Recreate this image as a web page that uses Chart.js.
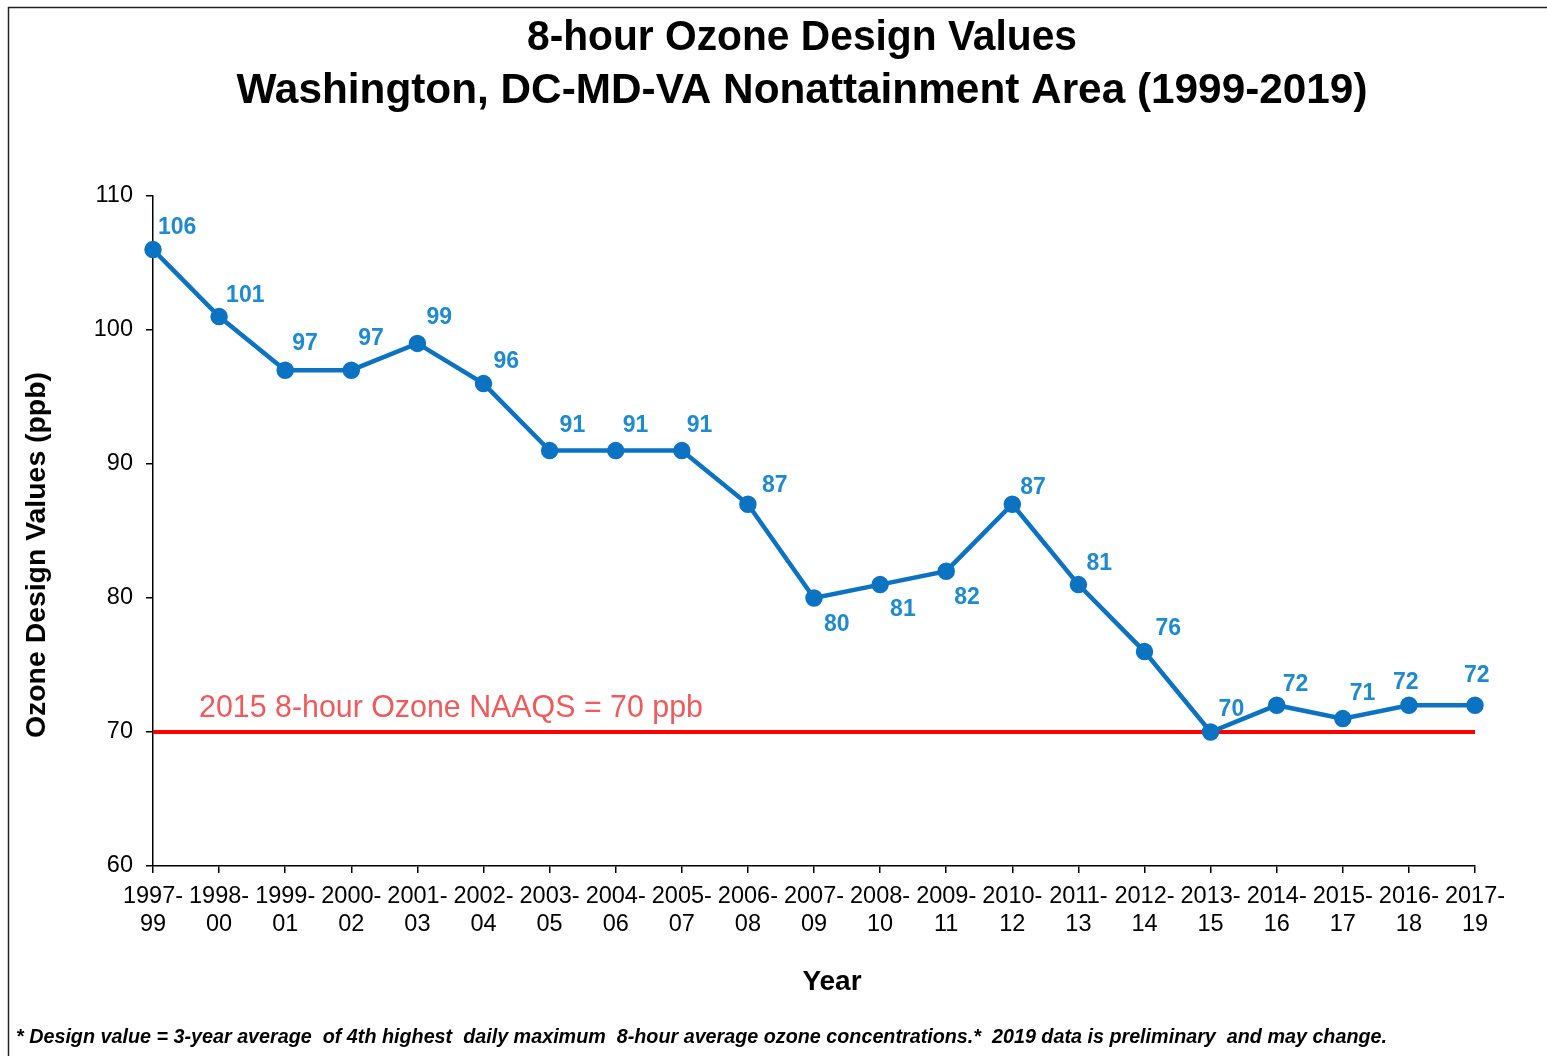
<!DOCTYPE html>
<html>
<head>
<meta charset="utf-8">
<script src="https://cdn.jsdelivr.net/npm/chart.js@4.4.1/dist/chart.umd.min.js"></script>
<style>
  html, body { margin: 0; padding: 0; background: #fff; overflow: hidden; }
  #wrap { position: relative; width: 1547px; height: 1056px; }
  canvas { display: block; }
</style>
</head>
<body>
<div id="wrap"><canvas id="ozoneChart" width="1547" height="1056"></canvas></div>
<script>
// data
var periods = ['1997-99', '1998-00', '1999-01', '2000-02', '2001-03', '2002-04', '2003-05',
               '2004-06', '2005-07', '2006-08', '2007-09', '2008-10', '2009-11', '2010-12',
               '2011-13', '2012-14', '2013-15', '2014-16', '2015-17', '2016-18', '2017-19'];
var designValues = [106, 101, 97, 97, 99, 96, 91, 91, 91, 87, 80, 81, 82, 87, 81, 76, 70, 72, 71, 72, 72];
var naaqsValues = [70, 70, 70, 70, 70, 70, 70, 70, 70, 70, 70, 70, 70, 70, 70, 70, 70, 70, 70, 70, 70];
var yMin = 60, yMax = 110, yStep = 10;

var chartTitle = ['8-hour Ozone Design Values', 'Washington, DC-MD-VA Nonattainment Area (1999-2019)'];
var yTitle = 'Ozone Design Values (ppb)';
var xTitle = 'Year';
var naaqsLabel = '2015 8-hour Ozone NAAQS = 70 ppb';
var footnote = '* Design value = 3-year average  of 4th highest  daily maximum  8-hour average ozone concentrations.*  2019 data is preliminary  and may change.';

// where each value label sits relative to its point (px)
var labelShift = [[5, -22], [7, -21], [7, -27], [7, -32], [9, -26], [10, -22], [10, -25],
                  [7, -25], [5, -25], [14, -19], [10, 27], [10, 25], [8, 26], [8, -17],
                  [8, -21], [11, -23], [8, -22], [6, -21], [7, -25], [-16, -23], [-11, -30]];

var FONT = '"Liberation Sans", Arial, sans-serif';

var textPlugin = {
    id: 'ozoneText',
    afterDatasetsDraw: function (chart) {
        var ctx = chart.ctx;
        var xs = chart.scales.x, ys = chart.scales.y;
        ctx.save();
        ctx.textBaseline = 'middle';
        ctx.textAlign = 'left';

        // value labels
        ctx.font = 'bold 23px ' + FONT;
        ctx.fillStyle = '#1E8AD0';
        designValues.forEach(function (v, i) {
            var px = xs.getPixelForValue(i);
            var py = ys.getPixelForValue(v);
            ctx.fillText(String(v), px + labelShift[i][0], py + labelShift[i][1]);
        });

        // NAAQS label
        ctx.font = '30.5px ' + FONT;
        ctx.fillStyle = '#F05A5A';
        ctx.fillText(naaqsLabel, xs.left + 46, ys.getPixelForValue(70) - 23, 504);
        ctx.restore();
    },
    afterDraw: function (chart) {
        var ctx = chart.ctx;
        ctx.save();
        // frame
        ctx.strokeStyle = '#222';
        ctx.lineWidth = 1.5;
        ctx.beginPath();
        ctx.moveTo(8.5, 1056);
        ctx.lineTo(8.5, 7.5);
        ctx.lineTo(1547, 7.5);
        ctx.stroke();

        ctx.fillStyle = '#000';
        ctx.textBaseline = 'middle';
        ctx.textAlign = 'center';

        // title
        ctx.font = 'bold 43px ' + FONT;
        ctx.fillText(chartTitle[0], 802, 38, 550);
        ctx.fillText(chartTitle[1], 802, 91, 1131);

        // axis titles
        ctx.font = 'bold 28px ' + FONT;
        ctx.fillText(xTitle, 832, 982);
        ctx.save();
        ctx.translate(37, 555);
        ctx.rotate(-Math.PI / 2);
        ctx.font = 'bold 28.5px ' + FONT;
        ctx.fillText(yTitle, 0, 0, 366);
        ctx.restore();

        // footnote
        ctx.font = 'italic bold 20px ' + FONT;
        ctx.textAlign = 'left';
        ctx.fillText(footnote, 16, 1037, 1371);
        ctx.restore();
    }
};

var ctx = document.getElementById('ozoneChart').getContext('2d');
new Chart(ctx, {
    type: 'line',
    data: {
        labels: periods.map(function (p) { return [p.slice(0, 5), p.slice(5)]; }),
        datasets: [{
            label: 'Design value',
            data: designValues,
            borderColor: '#0B73C2',
            backgroundColor: '#0B73C2',
            borderWidth: 4.5,
            pointRadius: 6.5,
            pointHoverRadius: 6.5,
            tension: 0,
            order: 1
        }, {
            label: 'NAAQS',
            data: naaqsValues,
            borderColor: '#FF0000',
            borderWidth: 4,
            pointRadius: 0,
            tension: 0,
            order: 2
        }]
    },
    options: {
        responsive: false,
        animation: false,
        devicePixelRatio: 1,
        layout: {
            padding: { top: 196, right: 72, left: 0, bottom: 0 }
        },
        plugins: {
            legend: { display: false },
            tooltip: { enabled: false },
            title: { display: false }
        },
        scales: {
            x: {
                grid: { drawOnChartArea: false, drawTicks: true, tickLength: 7, color: '#000', lineWidth: 1.5 },
                border: { color: '#000', width: 1.5 },
                ticks: {
                    color: '#000',
                    font: { family: FONT, size: 23.5, lineHeight: 1.2 },
                    padding: 9,
                    maxRotation: 0,
                    autoSkip: false
                },
                afterFit: function (scale) { scale.height = 190; }
            },
            y: {
                min: yMin,
                max: yMax,
                grid: { drawOnChartArea: false, drawTicks: true, tickLength: 7, color: '#000', lineWidth: 1.5 },
                border: { color: '#000', width: 1.5 },
                ticks: {
                    stepSize: yStep,
                    color: '#000',
                    font: { family: FONT, size: 23.5 },
                    padding: 13
                },
                afterFit: function (scale) { scale.width = 153; }
            }
        }
    },
    plugins: [textPlugin]
});
</script>
</body>
</html>
